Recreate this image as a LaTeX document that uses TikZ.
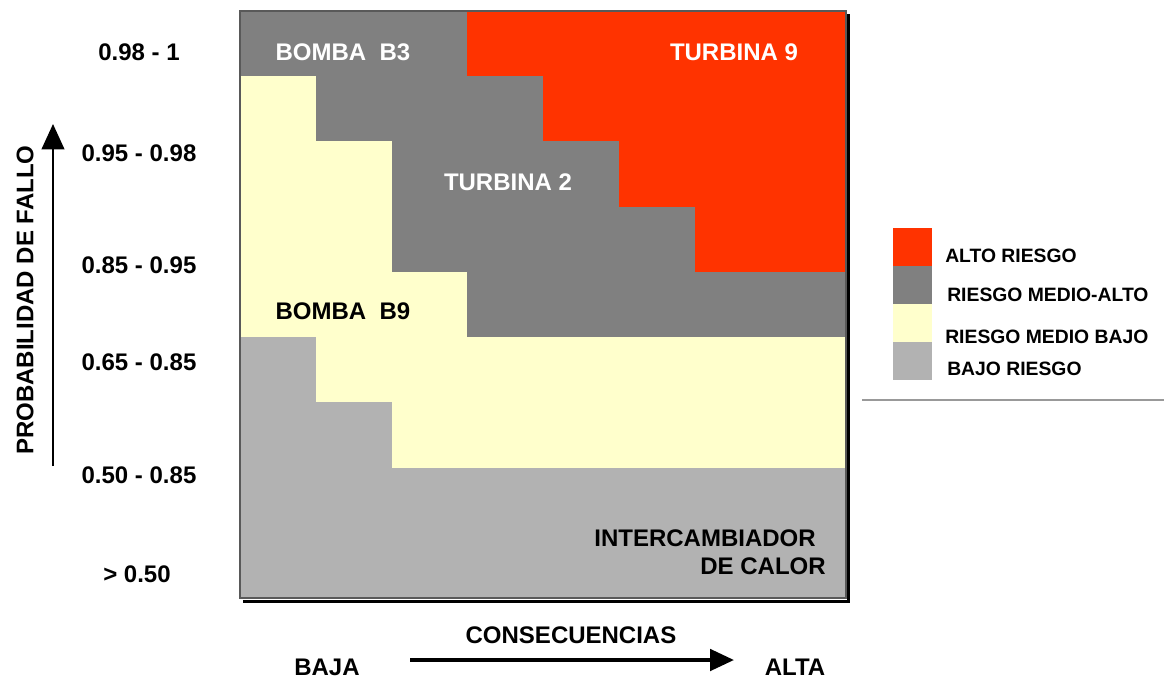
\documentclass[tikz,border=0pt]{standalone}
\usepackage{fontspec}
\setmainfont{Liberation Sans}
\usepackage{tikz}
\usetikzlibrary{arrows.meta}
\definecolor{alto}{HTML}{FF3300}
\definecolor{medioalto}{HTML}{808080}
\definecolor{mediobajo}{HTML}{FFFFCC}
\definecolor{bajo}{HTML}{B2B2B2}
\newcommand{\cellw}{75.75}
\newcommand{\cellh}{65.22}
\newcommand{\cellAlto}[4]{\fill[alto] ( 240 + #1*\cellw , 11 + #2*\cellh ) rectangle ( 240 + #3*\cellw , 11 + #4*\cellh );}
\newcommand{\cellMedioAlto}[4]{\fill[medioalto] ( 240 + #1*\cellw , 11 + #2*\cellh ) rectangle ( 240 + #3*\cellw , 11 + #4*\cellh );}
\newcommand{\cellMedioBajo}[4]{\fill[mediobajo] ( 240 + #1*\cellw , 11 + #2*\cellh ) rectangle ( 240 + #3*\cellw , 11 + #4*\cellh );}
\newcommand{\cellBajo}[4]{\fill[bajo] ( 240 + #1*\cellw , 11 + #2*\cellh ) rectangle ( 240 + #3*\cellw , 11 + #4*\cellh );}
\tikzset{
  lbl/.style={font=\fontsize{18}{21}\selectfont\bfseries, inner sep=0pt},
  inlbl/.style={lbl, text=white},
  leglbl/.style={font=\fontsize{14.5}{17}\selectfont\bfseries, inner sep=0pt, anchor=west},
  legbox/.style={minimum width=29.25pt, minimum height=28.5pt, inner sep=0pt, outer sep=0pt},
}

\begin{document}
\begin{tikzpicture}[x=0.75pt, y=-0.75pt]
        \useasboundingbox (0,0) rectangle (1164,679);
        % row1
        \cellMedioAlto{0}{0}{3}{1}
        \cellAlto{3}{0}{8}{1}
        % row2
        \cellMedioBajo{0}{1}{1}{2}
        \cellMedioAlto{1}{1}{4}{2}
        \cellAlto{4}{1}{8}{2}
        % row3
        \cellMedioBajo{0}{2}{2}{3}
        \cellMedioAlto{2}{2}{5}{3}
        \cellAlto{5}{2}{8}{3}
        % row4
        \cellMedioBajo{0}{3}{2}{4}
        \cellMedioAlto{2}{3}{6}{4}
        \cellAlto{6}{3}{8}{4}
        % row5
        \cellMedioBajo{0}{4}{3}{5}
        \cellMedioAlto{3}{4}{8}{5}
        % row6
        \cellBajo{0}{5}{1}{6}
        \cellMedioBajo{1}{5}{8}{6}
        % row7
        \cellBajo{0}{6}{2}{7}
        \cellMedioBajo{2}{6}{8}{7}
        % row8 + row9
        \cellBajo{0}{7}{8}{9}
        % frame
        \draw[black!65, line width=0.8pt] (240,11) rectangle (846,598);
        \draw[line width=2pt] (243,601.5) -- (848.5,601.5) -- (848.5,14);
        % texts in the matrix
        \node[inlbl] (bombab3) at (343,52) {BOMBA\ \ B3};
        \node[inlbl] (turbina9) at (734,52) {TURBINA 9};
        \node[inlbl] (turbina2) at (508,182) {TURBINA 2};
        \node[lbl] (bombab9) at (343,311) {BOMBA\ \ B9};
        \node[lbl, anchor=east] (intercamb) at (816,538) {INTERCAMBIADOR};
        \node[lbl, anchor=east] (decalor) at (826,566) {DE CALOR};
        % probability levels
        \node[lbl] (p1) at (139,52) {0.98 - 1};
        \node[lbl] (p2) at (139,153) {0.95 - 0.98};
        \node[lbl] (p3) at (139,265) {0.85 - 0.95};
        \node[lbl] (p4) at (139,362) {0.65 - 0.85};
        \node[lbl] (p5) at (139,475) {0.50 - 0.85};
        \node[lbl] (p6) at (137,574) {> 0.50};
        % axes
        \node[lbl, rotate=90] (probab) at (25,300) {PROBABILIDAD DE FALLO};
        \coordinate (yfrom) at (53,466);
        \coordinate (yto) at (53,124);
        \draw[line width=1.5pt, -{Triangle[length=19pt, width=17pt]}] (yfrom) -- (yto);
        \node[lbl] (conse) at (571,635) {CONSECUENCIAS};
        \node[lbl] (baja) at (327,667) {BAJA};
        \node[lbl] (altax) at (795,667) {ALTA};
        \coordinate (xfrom) at (410,660);
        \coordinate (xto) at (734,660);
        \draw[line width=3pt, -{Triangle[length=18pt, width=16pt]}] (xfrom) -- (xto);
        % legend
        \node[legbox, fill=alto] (legalto) at (912.5,246.5) {};
        \node[legbox, fill=medioalto] (legmalto) at (912.5,284.5) {};
        \node[legbox, fill=mediobajo] (legmbajo) at (912.5,322.5) {};
        \node[legbox, fill=bajo] (legbajo) at (912.5,360.5) {};
        \node[leglbl] (txtalto) at (945,256) {ALTO RIESGO};
        \node[leglbl] (txtmalto) at (947,295) {RIESGO MEDIO-ALTO};
        \node[leglbl] (txtmbajo) at (945,337) {RIESGO MEDIO BAJO};
        \node[leglbl] (txtbajo) at (947,369) {BAJO RIESGO};
        \draw[black!40, line width=1.5pt] (862,400) -- (1164,400);
\end{tikzpicture}
\end{document}
